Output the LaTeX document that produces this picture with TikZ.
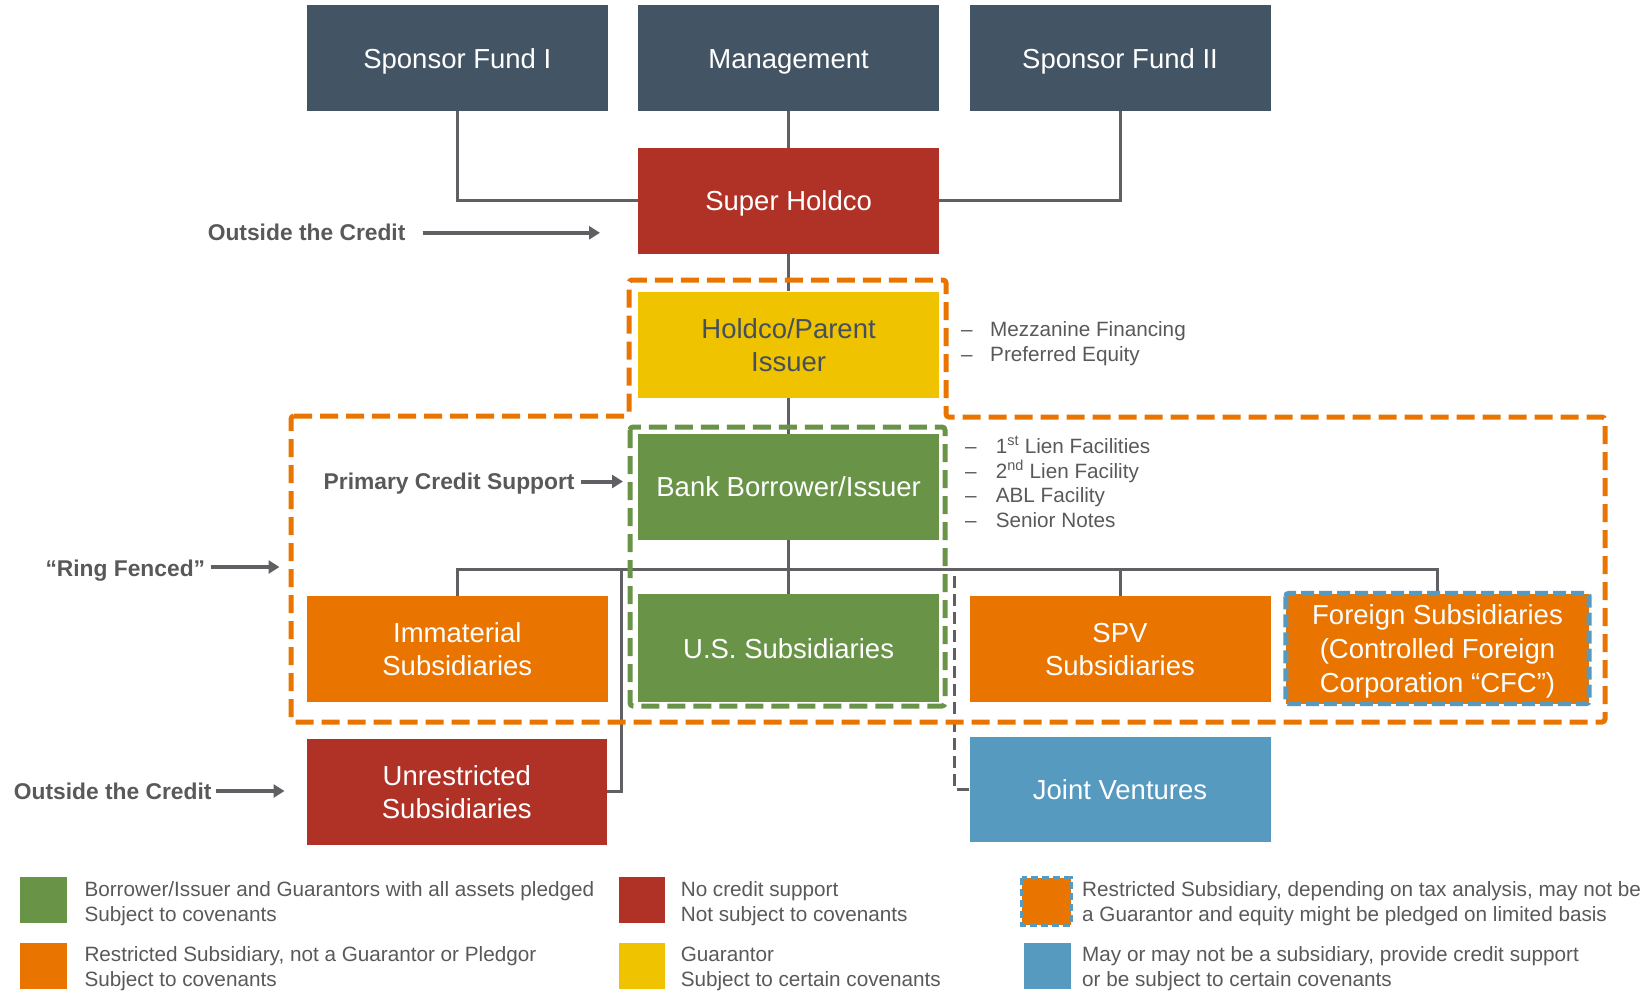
\documentclass[tikz,border=0pt]{standalone}
\usepackage{fontspec}
\setmainfont{Liberation Sans}
\usetikzlibrary{arrows.meta}
\definecolor{slate}{HTML}{435464}
\definecolor{cred}{HTML}{B03226}
\definecolor{cyellow}{HTML}{F0C300}
\definecolor{cgreen}{HTML}{699347}
\definecolor{corange}{HTML}{E97500}
\definecolor{cblue}{HTML}{569AC0}
\definecolor{lgray}{HTML}{606064}
\definecolor{tgray}{HTML}{595959}
\definecolor{htext}{HTML}{44505E}
\begin{document}
\begin{tikzpicture}[x=1pt,y=-1pt,
  box/.style={minimum width=301pt, minimum height=106pt, inner sep=0pt, text=white,
    font=\fontsize{27.5}{33}\selectfont, align=center, text height=20pt, text depth=0pt},
  two/.style={text height=53pt},
  three/.style={text height=88pt},
  conn/.style={draw=lgray, line width=3pt},
  arr/.style={draw=lgray, line width=4pt, -{Triangle[length=11pt,width=13pt]}},
  lbl/.style={font=\fontsize{22.8}{26}\selectfont\bfseries, text=tgray, inner sep=0pt, anchor=base west},
  small/.style={font=\fontsize{20.7}{24}\selectfont, text=tgray, inner sep=0pt, anchor=base west},
  ring/.style={draw=corange, line width=5pt, dash pattern=on 18pt off 8pt, rounded corners=3pt},
  gring/.style={draw=cgreen, line width=5pt, dash pattern=on 18pt off 8pt, rounded corners=3pt},
  bdash/.style={draw=cblue, line width=5pt, dash pattern=on 13pt off 5pt, rounded corners=3pt}]
\useasboundingbox (0,0) rectangle (1652,1002);

% boxes
\node[box, fill=slate] (sf1) at (457.3,58) {Sponsor Fund I};
\node[box, fill=slate] (mgmt) at (788.6,58) {Management};
\node[box, fill=slate] (sf2) at (1120,58) {Sponsor Fund II};
\node[box, fill=cred] (sh) at (788.6,200.7) {Super Holdco};
\node[box, two, fill=cyellow, text=htext] (hold) at (788.6,344.5) {Holdco/Parent\\Issuer};
\node[box, fill=cgreen] (bank) at (788.6,486.7) {Bank Borrower/Issuer};

% connectors
\coordinate (bus) at (788.6,570);
\coordinate (ujoin) at (621.6,570);
\coordinate (jvj) at (954.5,570);
\draw[conn] (sf1.south) |- (sh.west);
\draw[conn] (mgmt.south) -- (sh.north);
\draw[conn] (sf2.south) |- (sh.east);
\draw[conn] (sh.south) -- (hold.north);
\draw[conn] (hold.south) -- (bank.north);

\node[box, two, fill=corange] (imm) at (457.3,649) {Immaterial\\Subsidiaries};
\node[box, fill=cgreen, minimum height=108pt] (us) at (788.6,648) {U.S. Subsidiaries};
\node[box, two, fill=corange] (spv) at (1120,649) {SPV\\Subsidiaries};
\node[box, three, fill=corange, minimum width=303pt, minimum height=110pt, font=\fontsize{27.5}{34}\selectfont] (cfc) at (1437.5,648.5) {Foreign Subsidiaries\\(Controlled Foreign\\Corporation “CFC”)};
\node[box, two, fill=cred, minimum width=300pt] (unr) at (456.8,791.8) {Unrestricted\\Subsidiaries};
\node[box, fill=cblue, minimum height=105pt] (jv) at (1120,789) {Joint Ventures};

\draw[conn] (bank.south) -- (us.north);
\draw[conn] (imm.north) -- ++(0,-26.3) -| (cfc.north);
\draw[conn] (spv.north) -- (spv.north |- bus);
\draw[conn] (unr.east) -| (ujoin);
\draw[conn, dash pattern=on 12pt off 6pt] (jv.west) -| (jvj);

\draw[bdash] (cfc.north west) rectangle (cfc.south east);

% ring fence
\draw[ring] (291,416) -- (629,416) -- (629,280) -- (946,280) -- (946,417) -- (1605,417) -- (1605,722) -- (291,722) -- cycle;
\draw[gring] (630,427) rectangle (945,706);

% labels and arrows
\node[lbl] (oc1) at (207.6,240) {Outside the Credit};
\coordinate (a1s) at (422.5,232.8); \coordinate (a1e) at (600,232.8);
\draw[arr] (a1s) -- (a1e);
\node[lbl] (pcs) at (323.5,489.7) {Primary Credit Support};
\coordinate (a2s) at (580.5,481.5); \coordinate (a2e) at (623,481.5);
\draw[arr] (a2s) -- (a2e);
\node[lbl] (rf) at (45.3,576) {“Ring Fenced”};
\coordinate (a3s) at (210.7,567); \coordinate (a3e) at (279.5,567);
\draw[arr] (a3s) -- (a3e);
\node[lbl] (oc2) at (13.7,799.2) {Outside the Credit};
\coordinate (a4s) at (216,791); \coordinate (a4e) at (284.5,791);
\draw[arr] (a4s) -- (a4e);

% bullets
\node[small] (d1) at (961,336) {–};
\node[small] (b1) at (990,336) {Mezzanine Financing};
\node[small] (d2) at (961,361.4) {–};
\node[small] (b2) at (990,361.4) {Preferred Equity};
\node[small] (d3) at (965,453) {–};
\node[small] (b3) at (995.6,453) {1\textsuperscript{st} Lien Facilities};
\node[small] (d4) at (965,478.4) {–};
\node[small] (b4) at (995.6,478.4) {2\textsuperscript{nd} Lien Facility};
\node[small] (d5) at (965,502.6) {–};
\node[small] (b5) at (995.6,502.6) {ABL Facility};
\node[small] (d6) at (965,527.9) {–};
\node[small] (b6) at (995.6,527.9) {Senior Notes};

% legend
\fill[cgreen] (20,876.6) rectangle (67.4,923);
\fill[corange] (20,943) rectangle (67.4,989);
\fill[cred] (618.5,876.6) rectangle (664.8,923);
\fill[cyellow] (618.5,943) rectangle (664.8,989);
\fill[corange] (1022,877.5) rectangle (1070.5,925);
\draw[draw=cblue, line width=4pt, dash pattern=on 7pt off 4pt] (1022,877.5) rectangle (1070.5,925);
\fill[cblue] (1024,943) rectangle (1070.5,989);

\node[small] (l1a) at (84.3,896.4) {Borrower/Issuer and Guarantors with all assets pledged};
\node[small] (l1b) at (84.3,921) {Subject to covenants};
\node[small] (l2a) at (84.3,961) {Restricted Subsidiary, not a Guarantor or Pledgor};
\node[small] (l2b) at (84.3,986.2) {Subject to covenants};
\node[small] (l3a) at (680.6,896.4) {No credit support};
\node[small] (l3b) at (680.6,921) {Not subject to covenants};
\node[small] (l4a) at (680.6,961) {Guarantor};
\node[small] (l4b) at (680.6,986.2) {Subject to certain covenants};
\node[small] (l5a) at (1082,896.4) {Restricted Subsidiary, depending on tax analysis, may not be};
\node[small] (l5b) at (1082,921) {a Guarantor and equity might be pledged on limited basis};
\node[small] (l6a) at (1082,961) {May or may not be a subsidiary, provide credit support};
\node[small] (l6b) at (1082,986.2) {or be subject to certain covenants};
\end{tikzpicture}
\end{document}
